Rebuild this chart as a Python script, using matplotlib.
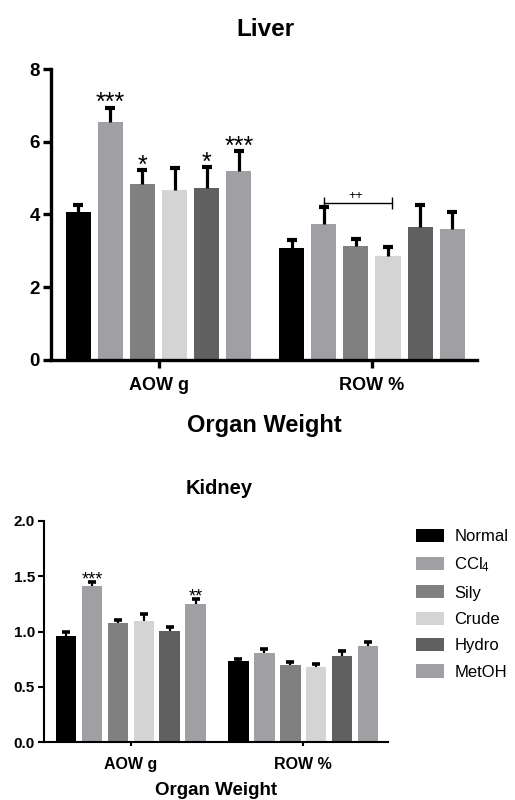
import matplotlib
matplotlib.use("Agg")
import matplotlib.pyplot as plt
import matplotlib.patches as mpatches
import numpy as np

plt.rcParams["font.family"] = ["Liberation Sans", "DejaVu Sans"]
plt.rcParams["mathtext.default"] = "regular"

# ── Data ─────────────────────────────────────────────────────────────────────
groups = ["Normal", "CCl$_4$", "Sily", "Crude", "Hydro", "MetOH"]
categories = ["AOW g", "ROW %"]

liver_aow = [4.06, 6.55, 4.85, 4.67, 4.74, 5.19]
liver_aow_err = [0.19, 0.39, 0.37, 0.62, 0.57, 0.55]
liver_row = [3.07, 3.75, 3.13, 2.87, 3.65, 3.60]
liver_row_err = [0.23, 0.46, 0.19, 0.24, 0.61, 0.47]
liver_aow_sig = ["", "***", "*", "", "*", "***"]

kidney_aow = [0.96, 1.41, 1.074, 1.092, 1.007, 1.248]
kidney_aow_err = [0.035, 0.037, 0.033, 0.066, 0.036, 0.045]
kidney_row = [0.737, 0.809, 0.698, 0.677, 0.782, 0.869]
kidney_row_err = [0.013, 0.036, 0.030, 0.032, 0.042, 0.039]
kidney_aow_sig = ["", "***", "", "", "", "**"]

COLORS = ["#000000", "#a0a0a4", "#808080", "#d4d4d4", "#606060", "#a0a0a4"]

GROUP_GAP = 6.65


def draw_panel(ax, aow, aow_err, row, row_err, sig, spine_w, bar_w, cap, elw,
               cthick, star_fs, star_off):
    offs = np.arange(len(groups)) - (len(groups) - 1) / 2
    centers = [0, GROUP_GAP]
    for ci, (vals, errs) in enumerate([(aow, aow_err), (row, row_err)]):
        xs = centers[ci] + offs
        ax.bar(xs, vals, bar_w, color=COLORS, zorder=2)
        _, caps, _ = ax.errorbar(xs, vals, yerr=[np.zeros(len(errs)), errs],
                                 fmt="none", ecolor="black", elinewidth=elw,
                                 capsize=cap, capthick=cthick, zorder=3)
        caps[0].set_visible(False)  # only the upper cap, like Prism
    for x, v, e, s in zip(offs, aow, aow_err, sig):
        if s:
            ax.annotate(s, xy=(x, v + e), xytext=(0, star_off),
                        textcoords="offset points", ha="center",
                        va="baseline", fontsize=star_fs)
    ax.set_xticks(centers)
    ax.set_xticklabels(categories, fontweight="bold")
    ax.set_xlim(-3.35, 9.92)
    for s in ["top", "right"]:
        ax.spines[s].set_visible(False)
    for s in ["left", "bottom"]:
        ax.spines[s].set_linewidth(spine_w)
    return offs


fig = plt.figure(figsize=(5.15, 8), dpi=100)

# ── Liver ───────────────────────────────────────────────────────────────────
ax1 = fig.add_axes([0.099, 0.55, 0.827, 0.36375])
offs = draw_panel(ax1, liver_aow, liver_aow_err, liver_row, liver_row_err,
                  liver_aow_sig, 2.4, 0.78, 3.3, 2.3, 3.0, 18, -2)
ax1.set_ylim(0, 8)
ax1.set_yticks([0, 2, 4, 6, 8])
ax1.tick_params(axis="y", length=6, width=2.4, labelsize=13.5, pad=2)
ax1.tick_params(axis="x", length=6, width=2.4, labelsize=13, pad=6.5)
for lab in ax1.get_yticklabels():
    lab.set_fontweight("bold")
ax1.set_xlabel("Organ Weight", fontsize=17, fontweight="bold", labelpad=14.5)

# ++ bracket between CCl4 and Crude in ROW %
bx0, bx1, by = GROUP_GAP + offs[1], GROUP_GAP + offs[3] + 0.12, 4.32
ax1.plot([bx0, bx1], [by, by], color="black", lw=1.0, zorder=4)
ax1.vlines([bx0, bx1], by - 0.16, by + 0.16, color="black", lw=1.0, zorder=4)
ax1.text((bx0 + bx1) / 2 - 0.05, by + 0.03, "++", ha="center", va="bottom",
         fontsize=9)

fig.text(0.515, 0.9625, "Liver", ha="center", va="center", fontsize=17.5,
         fontweight="bold")

# ── Kidney ──────────────────────────────────────────────────────────────────
ax2 = fig.add_axes([0.0854, 0.0721, 0.668, 0.2769])
draw_panel(ax2, kidney_aow, kidney_aow_err, kidney_row, kidney_row_err,
           kidney_aow_sig, 1.5, 0.79, 2.8, 1.6, 2.6, 13, -2)
ax2.set_ylim(0, 2.0)
ax2.set_yticks([0, 0.5, 1.0, 1.5, 2.0])
ax2.set_yticklabels(["0.0", "0.5", "1.0", "1.5", "2.0"])
ax2.tick_params(axis="y", length=4.5, width=1.5, labelsize=11, pad=2)
ax2.tick_params(axis="x", length=3, width=1.5, labelsize=11.5, pad=7.5)
for lab in ax2.get_yticklabels():
    lab.set_fontweight("bold")
ax2.set_xlabel("Organ Weight", fontsize=13.5, fontweight="bold", labelpad=7.5)

fig.text(0.425, 0.389, "Kidney", ha="center", va="center", fontsize=14.5,
         fontweight="bold")

handles = [mpatches.Patch(facecolor=c, edgecolor="none") for c in COLORS]
fig.legend(handles, groups, loc="upper left", bbox_to_anchor=(0.795, 0.347),
           frameon=False, fontsize=12, handlelength=1.65, handleheight=0.85,
           labelspacing=0.66, handletextpad=0.65, borderaxespad=0)

fig.savefig("out.png", dpi=100)
